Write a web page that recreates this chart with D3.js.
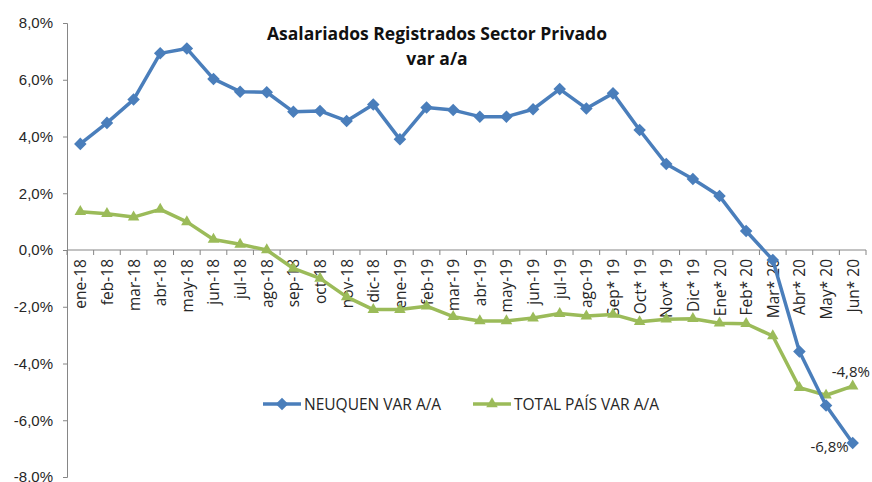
<!DOCTYPE html>
<html>
<head>
<meta charset="utf-8">
<script src="https://cdn.jsdelivr.net/npm/d3@7"></script>
<style>
  body { margin: 0; background: #fff; }
  svg { display: block; font-family: "Open Sans", "Liberation Sans", sans-serif; }
</style>
</head>
<body>
<div id="chart"></div>
<script>
// categories (month labels as printed on the axis)
const months = ["ene-18", "feb-18", "mar-18", "abr-18", "may-18", "jun-18", "jul-18", "ago-18",
  "sep-18", "oct-18", "nov-18", "dic-18", "ene-19", "feb-19", "mar-19", "abr-19", "may-19",
  "jun-19", "jul-19", "ago-19", "Sep* 19", "Oct* 19", "Nov* 19", "Dic* 19", "Ene* 20",
  "Feb* 20", "Mar* 20", "Abr* 20", "May* 20", "Jun* 20"];

// NEUQUEN VAR A/A (%)
const neuquen = [3.74, 4.48, 5.3, 6.93, 7.1, 6.03, 5.58, 5.56, 4.87, 4.9, 4.55, 5.13, 3.9,
  5.02, 4.93, 4.7, 4.7, 4.96, 5.67, 4.99, 5.52, 4.23, 3.03, 2.5, 1.9, 0.67, -0.35, -3.58,
  -5.48, -6.8];

// TOTAL PAÍS VAR A/A (%)
const totalPais = [1.35, 1.28, 1.16, 1.43, 0.99, 0.37, 0.2, 0.0, -0.65, -1.0, -1.65, -2.1,
  -2.1, -1.98, -2.35, -2.5, -2.5, -2.4, -2.24, -2.33, -2.27, -2.53, -2.44, -2.42, -2.58,
  -2.6, -3.03, -4.85, -5.12, -4.8];

const yTicks = [8, 6, 4, 2, 0, -2, -4, -6, -8];

const W = 872, H = 482;
const margin = { left: 67, right: 6, top: 23, bottom: 5 };
const blue = "#4A7EBB", green = "#9BBB59", ink = "#262626";
const fmt = v => d3.format(".1f")(v).replace("−", "-").replace(".", ",") + "%";

const svg = d3.select("#chart").append("svg")
  .attr("width", W)
  .attr("height", H);

const x = d3.scaleBand()
  .domain(months)
  .range([margin.left, W - margin.right]);

const y = d3.scaleLinear()
  .domain([-8, 8])
  .range([H - margin.bottom, margin.top]);

const cx = d => x(d) + x.bandwidth() / 2;

// y axis
const yAxis = svg.append("g")
  .attr("transform", `translate(${margin.left},0)`)
  .call(d3.axisLeft(y).tickValues(yTicks).tickFormat(fmt).tickSize(4).tickPadding(10));
yAxis.select(".domain").attr("stroke", "#868686");
yAxis.selectAll(".tick line").attr("stroke", "#868686");
yAxis.selectAll("text").attr("font-size", 15).attr("fill", ink);

// x axis at 0 with ticks between categories
const xg = svg.append("g").attr("transform", `translate(0,${y(0)})`);
xg.append("line")
  .attr("x1", margin.left).attr("x2", W - margin.right)
  .attr("stroke", "#868686");
xg.selectAll(".xtick")
  .data(months.concat(["__end"]))
  .enter().append("line")
  .attr("x1", (d, i) => i < months.length ? x(d) : x(months[months.length - 1]) + x.bandwidth())
  .attr("x2", (d, i) => i < months.length ? x(d) : x(months[months.length - 1]) + x.bandwidth())
  .attr("y1", 0).attr("y2", 5)
  .attr("stroke", "#868686");
xg.selectAll(".xlabel")
  .data(months)
  .enter().append("text")
  .attr("transform", d => `translate(${cx(d) + 6},9) rotate(-90)`)
  .attr("text-anchor", "end")
  .attr("font-size", 15.5)
  .attr("fill", ink)
  .text(d => d);

// title
svg.append("text")
  .attr("x", 437).attr("y", 40)
  .attr("text-anchor", "middle")
  .attr("font-weight", "bold").attr("font-size", 17.5)
  .attr("fill", "#111")
  .text("Asalariados Registrados Sector Privado");
svg.append("text")
  .attr("x", 437).attr("y", 65)
  .attr("text-anchor", "middle")
  .attr("font-weight", "bold").attr("font-size", 17.5)
  .attr("fill", "#111")
  .text("var a/a");

const line = d3.line()
  .x((d, i) => cx(months[i]))
  .y(d => y(d));

const diamond = d3.symbol().type(d3.symbolDiamond2).size(100);
const triangle = d3.symbol().type(d3.symbolTriangle2).size(95);

function drawSeries(values, color, sym) {
  svg.append("path")
    .datum(values)
    .attr("fill", "none")
    .attr("stroke", color)
    .attr("stroke-width", 3.5)
    .attr("stroke-linejoin", "round")
    .attr("d", line);
  svg.append("g").selectAll("path")
    .data(values)
    .enter().append("path")
    .attr("transform", (d, i) => `translate(${cx(months[i])},${y(d)})`)
    .attr("d", sym)
    .attr("fill", color);
}

drawSeries(totalPais, green, triangle);
drawSeries(neuquen, blue, diamond);

// end value labels
const last = months.length - 1;
svg.append("text")
  .attr("x", cx(months[last]) - 21).attr("y", y(totalPais[last]) - 9)
  .attr("font-size", 15).attr("fill", ink)
  .text(fmt(totalPais[last]));
svg.append("text")
  .attr("x", cx(months[last]) - 4).attr("y", y(neuquen[last]) + 9)
  .attr("text-anchor", "end")
  .attr("font-size", 15).attr("fill", ink)
  .text(fmt(neuquen[last]));

// legend
const legend = [
  { name: "NEUQUEN VAR A/A", color: blue, sym: diamond, x: 263 },
  { name: "TOTAL PAÍS VAR A/A", color: green, sym: triangle, x: 473 }
];
const lg = svg.append("g").selectAll("g")
  .data(legend)
  .enter().append("g")
  .attr("transform", d => `translate(${d.x},404)`);
lg.append("line")
  .attr("x1", 0).attr("x2", 38)
  .attr("stroke", d => d.color).attr("stroke-width", 3.5);
lg.append("path")
  .attr("transform", "translate(19,0)")
  .attr("d", d => d.sym())
  .attr("fill", d => d.color);
lg.append("text")
  .attr("x", 41).attr("y", 5.5)
  .attr("font-size", 15.5).attr("fill", ink)
  .text(d => d.name);
</script>
</body>
</html>
